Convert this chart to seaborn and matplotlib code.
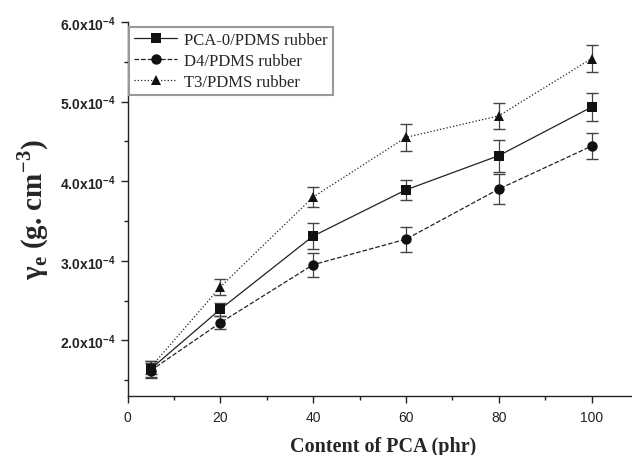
import matplotlib
matplotlib.use("Agg")
import matplotlib.pyplot as plt
import matplotlib.ticker as mticker
import seaborn as sns

# data (values in g/cm^3)
pca_content = [5, 20, 40, 60, 80, 100]

pca0 = [1.64e-4, 2.39e-4, 3.31e-4, 3.89e-4, 4.32e-4, 4.93e-4]
pca0_err = [0.10e-4, 0.08e-4, 0.16e-4, 0.13e-4, 0.20e-4, 0.18e-4]

d4 = [1.62e-4, 2.22e-4, 2.95e-4, 3.27e-4, 3.90e-4, 4.44e-4]
d4_err = [0.09e-4, 0.08e-4, 0.15e-4, 0.155e-4, 0.19e-4, 0.16e-4]

t3 = [1.66e-4, 2.67e-4, 3.80e-4, 4.55e-4, 4.82e-4, 5.54e-4]
t3_err = [0.08e-4, 0.10e-4, 0.13e-4, 0.17e-4, 0.16e-4, 0.17e-4]

labels = ["PCA-0/PDMS rubber", "D4/PDMS rubber", "T3/PDMS rubber"]

sns.set_style("ticks")
plt.rcParams["font.family"] = ["Liberation Sans", "DejaVu Sans"]

fig = plt.figure(figsize=(6.32, 4.56), dpi=100)
ax = fig.add_axes([127.5 / 632, 59 / 456, 510.4 / 632, 374 / 456])

series = [
    (pca0, pca0_err, "s", "-", labels[0]),
    (d4, d4_err, "o", "--", labels[1]),
    (t3, t3_err, "^", ":", labels[2]),
]

for vals, errs, mk, ls, lab in series:
    eb = ax.errorbar(pca_content, vals, yerr=errs, fmt="none", ecolor="#444444",
                     elinewidth=0.9, capsize=4, capthick=1.0, zorder=2)
    for cap in eb[1]:
        cap.set_color("#8a8a8a")
    sns.lineplot(x=pca_content, y=vals, ax=ax, color="#222222", linewidth=0.9,
                 linestyle=ls, marker=mk, markersize=7.5, markeredgewidth=0,
                 markerfacecolor="#111111", label=lab, zorder=3)

ax.set_xlim(0, 110)
ax.set_ylim(1.3e-4, 6.0e-4)
ax.xaxis.set_major_locator(mticker.MultipleLocator(20))
ax.xaxis.set_minor_locator(mticker.MultipleLocator(10))
ax.yaxis.set_major_locator(mticker.MultipleLocator(1e-4))
ax.yaxis.set_minor_locator(mticker.MultipleLocator(0.5e-4))
ax.yaxis.set_major_formatter(mticker.FuncFormatter(
    lambda v, p: f"{v * 1e4:.1f}x10$^{{\\mathregular{{-4}}}}$"))

sns.despine(ax=ax)
for sp in ["left", "bottom"]:
    ax.spines[sp].set_linewidth(1.0)
    ax.spines[sp].set_color("#222222")

ax.tick_params(which="major", direction="out", length=5, width=1, colors="#222222")
ax.tick_params(which="minor", direction="out", length=3, width=1, colors="#222222")
ax.tick_params(axis="x", labelsize=10, pad=5)
ax.tick_params(axis="y", labelsize=10)
for t in ax.get_yticklabels():
    t.set_fontweight("bold")

ax.set_xlabel("Content of PCA (phr)", fontfamily="Liberation Serif",
              fontweight="bold", fontsize=14.5, labelpad=9)
ax.set_ylabel("γ$_\\mathregular{e}$ (g. cm$^{\\mathregular{-3}}$)",
              fontfamily="Liberation Serif", fontweight="bold", fontsize=21)
ax.yaxis.set_label_coords(-0.15, 0.5)

leg = ax.legend(loc="upper left", bbox_to_anchor=(0.003, 0.987), borderaxespad=0,
                frameon=True, fancybox=False, edgecolor="#999999", framealpha=1,
                prop={"family": "Liberation Serif", "size": 12},
                handlelength=2.6, labelspacing=0.3, borderpad=0.3,
                handletextpad=0.4)
leg.get_frame().set_linewidth(1.5)

fig.savefig("out.png", dpi=100)
